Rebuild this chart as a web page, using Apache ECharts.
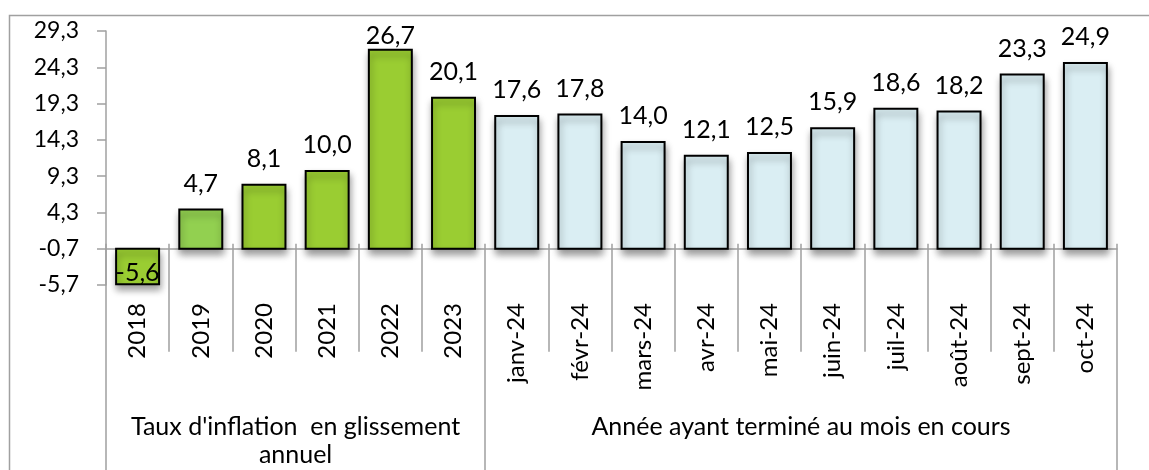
<!DOCTYPE html>
<html>
<head>
<meta charset="utf-8">
<script src="https://cdn.jsdelivr.net/npm/echarts@6.0.0/dist/echarts.min.js"></script>
<style>
  html, body { margin: 0; padding: 0; background: #fff; }
  #chart { width: 1149px; height: 470px; }
</style>
</head>
<body>
<div id="chart"></div>
<script>
const categories = ['2018', '2019', '2020', '2021', '2022', '2023',
  'janv-24', 'févr-24', 'mars-24', 'avr-24', 'mai-24', 'juin-24',
  'juil-24', 'août-24', 'sept-24', 'oct-24'];
const values = [-5.6, 4.7, 8.1, 10.0, 26.7, 20.1,
  17.6, 17.8, 14.0, 12.1, 12.5, 15.9, 18.6, 18.2, 23.3, 24.9];
const groupNames = ["Taux d'inflation  en glissement\nannuel", 'Année ayant terminé au mois en cours'];
const groupSpans = [6, 10];

const yMin = -5.7, yMax = 29.3, yStep = 5;
const axisCross = -0.7;   // horizontal axis crosses here, bars start from it

const FONT = 'Lato, "Noto Sans", sans-serif';
const GRID = { left: 106, right: 32, top: 31, bottom: 185, outerBoundsMode: 'none', containLabel: false };
const gridH = 470 - GRID.top - GRID.bottom;

const fmt = v => v.toFixed(1).replace('.', ',');
const barColor = i => i < 6 ? (i === 1 ? '#92D050' : '#9ACD32') : '#DAEEF3';

// group boundaries / centres on a 0..n value axis
const groupTicks = [0];
const groupCentres = [];
groupSpans.forEach(s => {
  const start = groupTicks[groupTicks.length - 1];
  groupCentres.push(start + s / 2);
  groupTicks.push(start + s);
});

const chart = echarts.init(document.getElementById('chart'));

function renderBar(params, api) {
  const i = api.value(0);
  const v = api.value(1);
  const top = api.coord([i, v]);
  const base = api.coord([i, axisCross]);
  const bw = api.size([1, 0])[0] * 0.68;
  const cs = params.coordSys;
  let ty;
  if (v >= 0) ty = Math.max(top[1] - 26, cs.y + 5);
  else ty = Math.min(top[1] + 26, cs.y + cs.height - 12);
  return {
    type: 'group',
    children: [
      {
        type: 'rect',
        shape: { x: top[0] - bw / 2, y: Math.min(top[1], base[1]), width: bw, height: Math.abs(base[1] - top[1]) },
        style: {
          fill: barColor(i), stroke: '#000', lineWidth: 2,
          shadowBlur: 7, shadowColor: 'rgba(0,0,0,0.4)', shadowOffsetX: 1, shadowOffsetY: 5
        }
      },
      {
        type: 'text',
        z2: 10,
        style: {
          text: fmt(v), x: top[0], y: ty, align: 'center', verticalAlign: 'middle',
          font: '25px ' + FONT, fill: '#000'
        }
      }
    ]
  };
}

const option = {
  animation: false,
  backgroundColor: '#fff',
  grid: GRID,
  graphic: [{
    type: 'rect', silent: true,
    shape: { x: 9.5, y: 15.5, width: 1200, height: 500 },
    style: { fill: 'none', stroke: '#a0a0a0', lineWidth: 1.5 }
  }],
  xAxis: [
    {
      // category labels row
      type: 'category', data: categories, position: 'bottom',
      axisLine: { show: false },
      axisTick: { show: true, length: 108, lineStyle: { color: '#a0a0a0', width: 1.5 } },
      axisLabel: { rotate: 90, margin: 18, color: '#000', fontSize: 24, fontFamily: FONT, interval: 0 }
    },
    {
      // axis line crossing the value axis at -0.7
      type: 'category', data: categories, position: 'bottom',
      offset: -gridH * (axisCross - yMin) / (yMax - yMin),
      axisLine: { show: true, lineStyle: { color: '#a0a0a0', width: 1.5 } },
      axisTick: { show: true, length: 6, lineStyle: { color: '#a0a0a0', width: 1.5 } },
      axisLabel: { show: false }
    },
    {
      // group row
      type: 'value', min: 0, max: categories.length, position: 'bottom',
      axisLine: { show: false },
      splitLine: { show: false },
      axisTick: { show: true, length: 190, customValues: groupTicks, lineStyle: { color: '#a0a0a0', width: 1.5 } },
      axisLabel: {
        customValues: groupCentres, margin: 128, color: '#000', fontSize: 25, fontFamily: FONT,
        lineHeight: 28, verticalAlign: 'top', align: 'center',
        formatter: v => groupNames[groupCentres.indexOf(v)] || ''
      }
    }
  ],
  yAxis: {
    type: 'value', min: yMin, max: yMax, interval: yStep,
    axisLine: { show: true, lineStyle: { color: '#a0a0a0', width: 1.5 } },
    axisTick: { show: true, length: 9, lineStyle: { color: '#a0a0a0', width: 1.5 } },
    splitLine: { show: false },
    axisLabel: { margin: 27, color: '#000', fontSize: 23, fontFamily: FONT, formatter: v => fmt(v) }
  },
  series: [{
    type: 'custom',
    xAxisIndex: 0,
    clip: false,
    renderItem: renderBar,
    encode: { x: 0, y: 1 },
    data: values.map((v, i) => [i, v])
  }]
};

chart.setOption(option);
</script>
</body>
</html>
